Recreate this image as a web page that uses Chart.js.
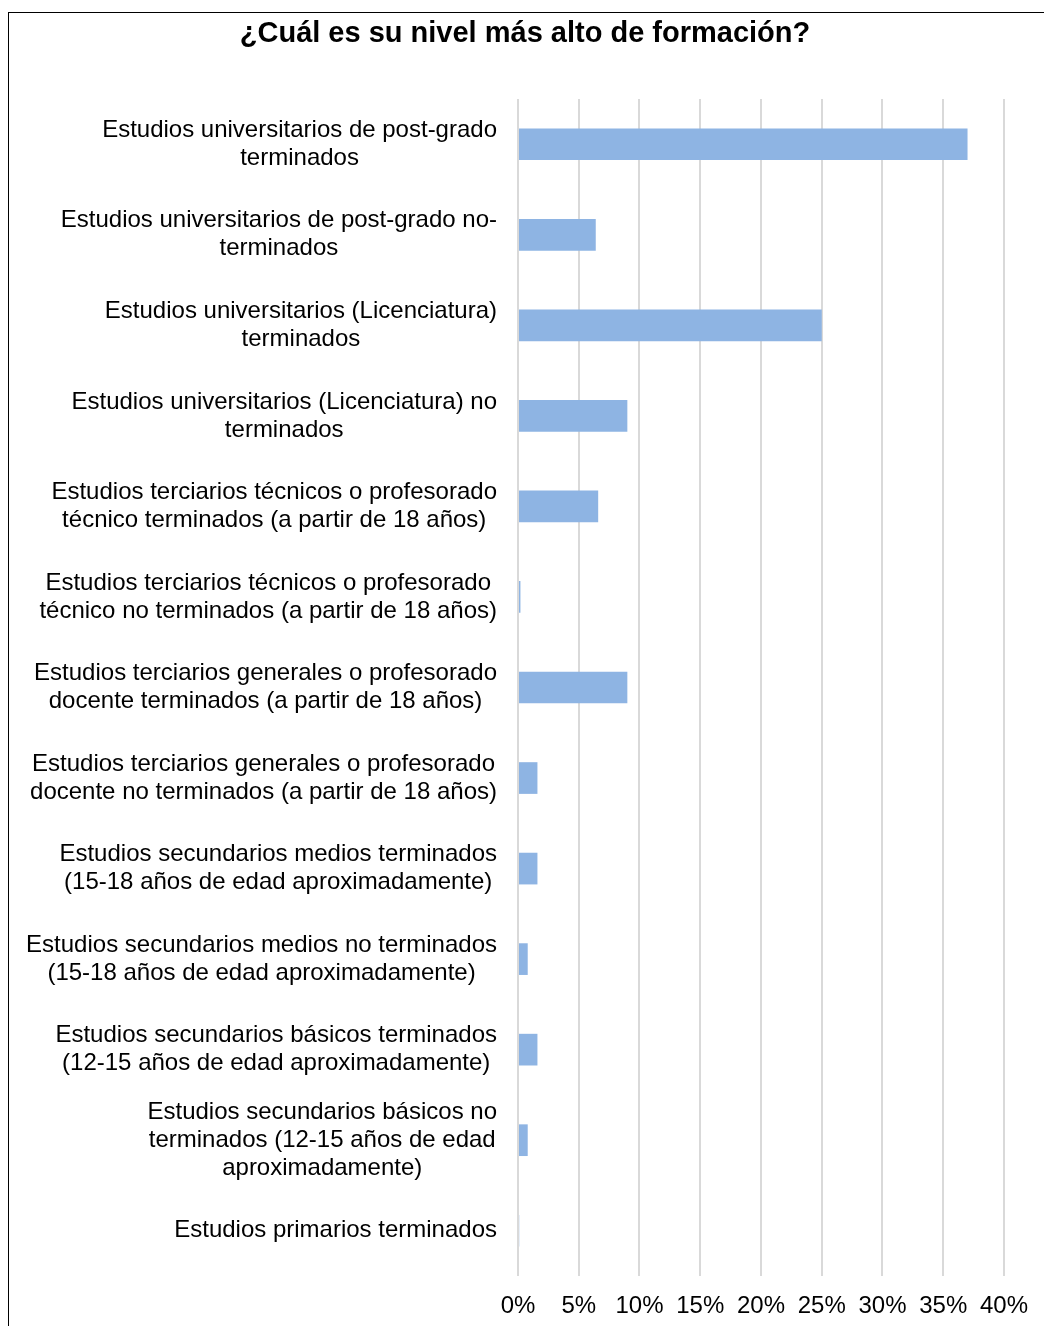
<!DOCTYPE html>
<html lang="es">
<head>
    <meta charset="UTF-8">
    <title>Nivel de formación</title>
    <script src="https://cdn.jsdelivr.net/npm/chart.js"></script>
    <style>
        html, body { margin: 0; padding: 0; overflow: hidden; background: #fff; }
        #frame { position: absolute; left: 8px; top: 12px; width: 1100px; height: 1400px; border: 1px solid #000; box-sizing: border-box; }
        #wrap { position: absolute; left: 0; top: 0; width: 1044px; height: 1326px; }
    </style>
</head>
<body>
    <div id="frame"></div>
    <div id="wrap"><canvas id="myChart" width="1044" height="1326"></canvas></div>
    <script>
        const title = "¿Cuál es su nivel más alto de formación?";

        // Categories (each entry = lines of the label)
        const categories = [
            ["Estudios universitarios de post-grado", "terminados"],
            ["Estudios universitarios de post-grado no-", "terminados"],
            ["Estudios universitarios (Licenciatura)", "terminados"],
            ["Estudios universitarios (Licenciatura) no", "terminados"],
            ["Estudios terciarios técnicos o profesorado", "técnico terminados (a partir de 18 años)"],
            ["Estudios terciarios técnicos o profesorado", "técnico no terminados (a partir de 18 años)"],
            ["Estudios terciarios generales o profesorado", "docente terminados (a partir de 18 años)"],
            ["Estudios terciarios generales o profesorado", "docente no terminados (a partir de 18 años)"],
            ["Estudios secundarios medios terminados", "(15-18 años de edad aproximadamente)"],
            ["Estudios secundarios medios no terminados", "(15-18 años de edad aproximadamente)"],
            ["Estudios secundarios básicos terminados", "(12-15 años de edad aproximadamente)"],
            ["Estudios secundarios básicos no", "terminados (12-15 años de edad", "aproximadamente)"],
            ["Estudios primarios terminados"]
        ];

        // Share of respondents, percent
        const values = [37.0, 6.4, 25.0, 9.0, 6.6, 0.2, 9.0, 1.6, 1.6, 0.8, 1.6, 0.8, 0.1];

        // x axis ticks
        const xTicks = [0, 5, 10, 15, 20, 25, 30, 35, 40];

        const FONT = '"Liberation Sans", Arial, sans-serif';

        // Title across the whole canvas + category labels:
        // block right-aligned to the axis, lines centred within the block
        const textLayer = {
            id: "textLayer",
            afterDraw(chart) {
                const ctx = chart.ctx;
                const yScale = chart.scales.y;
                const right = chart.chartArea.left - 21;
                const lineH = 28;
                ctx.save();
                ctx.fillStyle = "#000";
                ctx.textAlign = "center";
                ctx.textBaseline = "middle";

                ctx.font = "bold 29px " + FONT;
                ctx.fillText(title, 525, 34);

                ctx.font = "24px " + FONT;
                categories.forEach((lines, i) => {
                    const y = yScale.getPixelForTick(i);
                    const w = Math.max(...lines.map(l => ctx.measureText(l).width));
                    const cx = right - w / 2;
                    const y0 = y - (lines.length - 1) * lineH / 2;
                    lines.forEach((l, k) => ctx.fillText(l, cx, y0 + k * lineH));
                });
                ctx.restore();
            }
        };

        const ctx = document.getElementById("myChart").getContext("2d");
        new Chart(ctx, {
            type: "bar",
            data: {
                labels: categories.map(c => c.join(" ")),
                datasets: [{
                    data: values,
                    backgroundColor: "#8EB4E3",
                    borderWidth: 0,
                    barPercentage: 0.35,
                    categoryPercentage: 1
                }]
            },
            options: {
                indexAxis: "y",
                responsive: false,
                animation: false,
                layout: { padding: { left: 518, right: 39, top: 99, bottom: 6 } },
                plugins: {
                    legend: { display: false },
                    tooltip: { enabled: false },
                    title: { display: false }
                },
                scales: {
                    x: {
                        min: xTicks[0],
                        max: xTicks[xTicks.length - 1],
                        afterBuildTicks: axis => { axis.ticks = xTicks.map(v => ({ value: v })); },
                        afterFit: axis => { axis.height = 44; },
                        grid: { color: "#d9d9d9", lineWidth: 2, drawTicks: false },
                        border: { display: false },
                        ticks: {
                            padding: 16,
                            color: "#000",
                            font: { family: FONT, size: 24 },
                            maxRotation: 0,
                            callback: v => v + "%"
                        }
                    },
                    y: {
                        display: false
                    }
                }
            },
            plugins: [textLayer]
        });
    </script>
</body>
</html>
